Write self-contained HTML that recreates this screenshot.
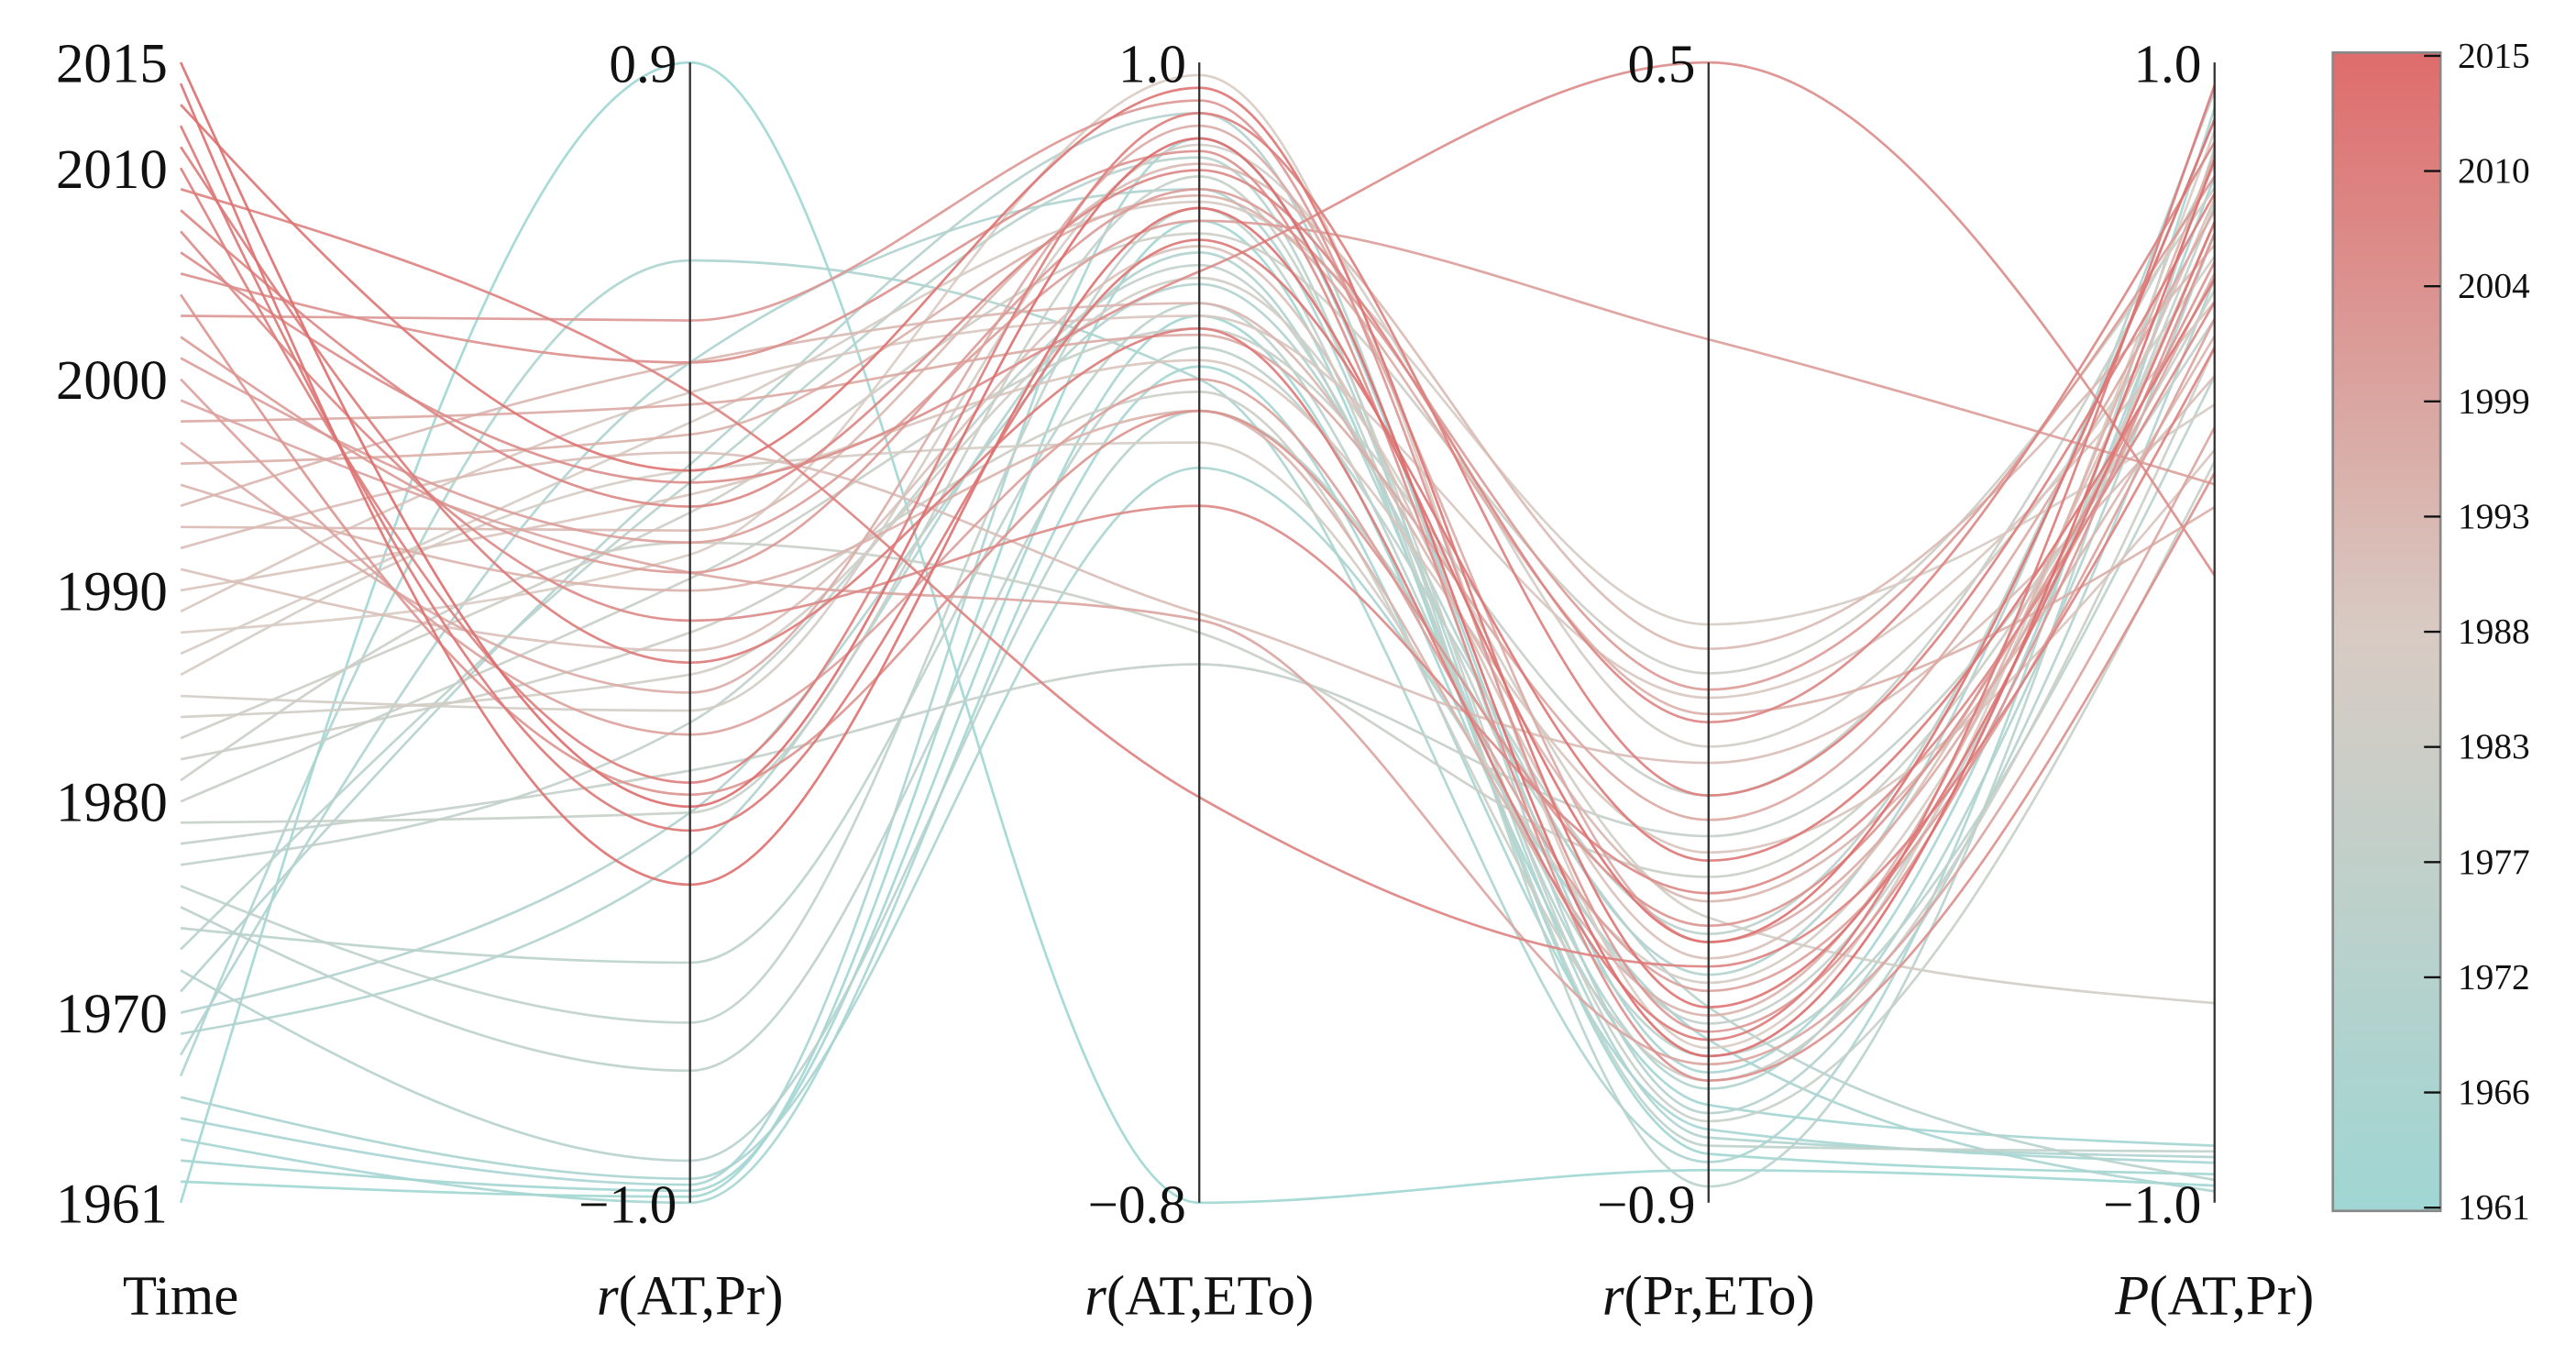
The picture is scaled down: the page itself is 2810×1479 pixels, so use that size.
<!DOCTYPE html>
<html><head><meta charset="utf-8"><style>
html,body{margin:0;padding:0;background:#fff;}
svg{display:block;}
text{font-family:"Liberation Serif",serif;fill:#111;}
</style></head><body>
<svg id="chart" width="2810" height="1479" viewBox="0 0 1568 825.3" xmlns="http://www.w3.org/2000/svg">
<defs>
<linearGradient id="cbg" x1="0" y1="1" x2="0" y2="0">
<stop offset="0" stop-color="#9fd6d3"/>
<stop offset="0.5" stop-color="#d8cbc3"/>
<stop offset="1" stop-color="#de6c6c"/>
</linearGradient>
</defs>
<g id="lines"></g>
<g id="axes"></g>
<g id="cbar"></g>
</svg>
<script>
const years = [];
for (let y = 1961; y <= 2015; y++) years.push(y);
const axisNames = ["Time", "r(AT,Pr)", "r(AT,ETo)", "r(Pr,ETo)", "P(AT,Pr)"];
const axisMin = [1961, -1.0, -0.8, -0.9, -1.0];
const axisMax = [2015, 0.9, 1.0, 0.5, 1.0];
const timeTicks = [1961, 1970, 1980, 1990, 2000, 2010, 2015];
const cbarTicks = [1961, 1966, 1972, 1977, 1983, 1988, 1993, 1999, 2004, 2010, 2015];
const rATPr = [0.90,-0.99,-0.98,-1.00,-0.97,-0.96,0.57,0.40,-0.42,-0.35,0.23,-0.93,0.20,-0.60,-0.78,-0.70,-0.20,-0.28,-0.35,0.04,0.10,-0.05,0.15,-0.12,-0.18,0.22,0.30,0.08,0.35,0.18,-0.08,0.25,0.12,0.40,0.02,0.28,-0.15,0.33,0.05,-0.22,0.10,0.05,0.47,-0.32,0.40,0.20,-0.03,0.16,0.35,-0.30,-0.10,-0.38,0.22,-0.47,-0.34];
const rATETo = [-0.80,0.75,0.60,0.52,0.88,0.36,0.50,0.80,0.70,0.65,0.92,0.45,0.85,0.62,0.55,0.77,0.68,0.05,0.82,0.58,0.10,0.48,0.73,0.66,0.87,0.40,0.78,0.98,0.60,0.53,0.71,0.13,0.84,0.62,0.45,0.79,0.90,0.57,0.12,0.50,0.75,0.80,0.94,0.45,0.86,0.67,0.30,0.83,-0.16,0.92,0.58,0.72,0.96,0.77,0.88];
const rPrETo = [-0.86,-0.84,-0.78,-0.81,-0.74,-0.70,-0.85,-0.82,-0.76,-0.62,-0.79,-0.66,-0.88,-0.72,-0.57,-0.83,-0.68,-0.45,-0.80,-0.40,-0.50,-0.75,-0.25,-0.55,-0.34,-0.63,-0.19,-0.71,-0.28,-0.47,-0.60,-0.36,-0.22,-0.53,-0.67,-0.30,-0.58,-0.43,-0.73,-0.64,0.16,-0.27,-0.69,-0.56,-0.75,0.50,-0.52,-0.31,-0.61,-0.40,-0.70,-0.48,-0.66,-0.58,-0.72];
const pATPr = [-0.97,-0.95,-0.90,-0.93,0.80,-0.98,0.92,-0.92,0.70,0.95,0.62,-0.96,0.85,0.45,0.90,-0.91,0.75,0.55,0.30,0.82,0.60,0.50,0.78,-0.65,0.66,0.72,0.40,0.88,0.58,0.32,0.76,0.45,0.68,0.52,0.84,0.22,0.63,0.74,0.36,0.55,0.26,0.80,0.70,0.65,0.28,0.10,0.58,0.86,0.50,0.77,0.96,0.62,0.72,0.90,0.83];

const NS = "http://www.w3.org/2000/svg";
const axisX = [110, 420, 730, 1040, 1348];
const TOP = 38, BOT = 732;
function yScale(i, v) { return BOT - (v - axisMin[i]) / (axisMax[i] - axisMin[i]) * (BOT - TOP); }
function lerp(a, b, t) { return a + (b - a) * t; }
function hex(c) { return [parseInt(c.slice(1,3),16), parseInt(c.slice(3,5),16), parseInt(c.slice(5,7),16)]; }
const cA = hex("#9fd6d3"), cM = hex("#d8cbc3"), cB = hex("#de6c6c");
function color(year) {
  const t = (year - 1961) / 54;
  let a, b, u;
  if (t < 0.5) { a = cA; b = cM; u = t / 0.5; } else { a = cM; b = cB; u = (t - 0.5) / 0.5; }
  return "rgb(" + a.map((x, k) => Math.round(lerp(x, b[k], u))).join(",") + ")";
}
// monotone-X cubic (like d3.curveMonotoneX)
function monotonePath(xs, ys) {
  const n = xs.length, m = [], t = [];
  for (let i = 0; i < n - 1; i++) m[i] = (ys[i + 1] - ys[i]) / (xs[i + 1] - xs[i]);
  for (let i = 1; i < n - 1; i++) {
    const h0 = xs[i] - xs[i - 1], h1 = xs[i + 1] - xs[i];
    const s0 = m[i - 1], s1 = m[i];
    const p = (s0 * h1 + s1 * h0) / (h0 + h1);
    t[i] = (Math.sign(s0) + Math.sign(s1)) * Math.min(Math.abs(s0), Math.abs(s1), 0.5 * Math.abs(p)) || 0;
  }
  t[0] = (3 * m[0] - t[1]) / 2;
  t[n - 1] = (3 * m[n - 2] - t[n - 2]) / 2;
  let d = "M" + xs[0] + "," + ys[0];
  for (let i = 0; i < n - 1; i++) {
    const dx = (xs[i + 1] - xs[i]) / 3;
    d += "C" + (xs[i] + dx) + "," + (ys[i] + dx * t[i]) + "," + (xs[i + 1] - dx) + "," + (ys[i + 1] - dx * t[i + 1]) + "," + xs[i + 1] + "," + ys[i + 1];
  }
  return d;
}
const series = [years, rATPr, rATETo, rPrETo, pATPr];
const gl = document.getElementById("lines");
for (let k = 0; k < years.length; k++) {
  const ys = series.map((s, i) => yScale(i, s[k]));
  const p = document.createElementNS(NS, "path");
  p.setAttribute("d", monotonePath(axisX, ys));
  p.setAttribute("fill", "none");
  p.setAttribute("stroke", color(years[k]));
  p.setAttribute("stroke-width", "1.5");
  p.setAttribute("stroke-opacity", "0.9");
  
  
  gl.appendChild(p);
}
const ga = document.getElementById("axes");
function txt(parent, x, y, s, size, anchor, name) {
  const t = document.createElementNS(NS, "text");
  t.setAttribute("x", x); t.setAttribute("y", y);
  t.setAttribute("font-size", size); t.setAttribute("text-anchor", anchor);
  t.textContent = s;
  
  
  parent.appendChild(t);
  return t;
}
for (let i = 1; i < 5; i++) {
  const l = document.createElementNS(NS, "line");
  l.setAttribute("x1", axisX[i]); l.setAttribute("x2", axisX[i]);
  l.setAttribute("y1", TOP); l.setAttribute("y2", BOT);
  l.setAttribute("stroke", "#333"); l.setAttribute("stroke-width", "1.3");
  
  
  ga.appendChild(l);
  const fmt = v => (v < 0 ? "\u2212" + Math.abs(v).toFixed(1) : v.toFixed(1));
  txt(ga, axisX[i] - 8, TOP + 12, fmt(axisMax[i]), 33, "end", 'axis-max-label-' + i);
  txt(ga, axisX[i] - 8, BOT + 12, fmt(axisMin[i]), 33, "end", 'axis-min-label-' + i);
}
timeTicks.forEach(v => txt(ga, 102, yScale(0, v) + 12, String(v), 34, "end", 'time-tick-' + v));
txt(ga, 110, 800, "Time", 34, "middle", 'axis-title-time');
[["r", "(AT,Pr)"], ["r", "(AT,ETo)"], ["r", "(Pr,ETo)"], ["P", "(AT,Pr)"]].forEach((p, j) => {
  const t = txt(ga, axisX[j + 1], 800, "", 34, "middle", 'axis-title-' + (j + 1));
  const a = document.createElementNS(NS, "tspan"); a.setAttribute("font-style", "italic"); a.textContent = p[0];
  const b = document.createElementNS(NS, "tspan"); b.textContent = p[1];
  t.appendChild(a); t.appendChild(b);
});
const gc = document.getElementById("cbar");
const CX = 1420, CW = 65.5, CT = 32, CB = 737;
const r = document.createElementNS(NS, "rect");
r.setAttribute("x", CX); r.setAttribute("y", CT); r.setAttribute("width", CW); r.setAttribute("height", CB - CT);
r.setAttribute("fill", "url(#cbg)"); r.setAttribute("stroke", "#888"); r.setAttribute("stroke-width", "1.5");


gc.appendChild(r);
cbarTicks.forEach((v, i) => {
  const y = CB - 2 - i * (CB - CT - 4) / (cbarTicks.length - 1);
  const tk = document.createElementNS(NS, "line");
  tk.setAttribute("x1", CX + CW - 10); tk.setAttribute("x2", CX + CW);
  tk.setAttribute("y1", y); tk.setAttribute("y2", y);
  tk.setAttribute("stroke", "#111"); tk.setAttribute("stroke-width", "1.3");
  
  
  gc.appendChild(tk);
  txt(gc, 1496, y + 7, String(v), 22, "start", 'colorbar-label-' + v);
});
</script>
</body></html>
